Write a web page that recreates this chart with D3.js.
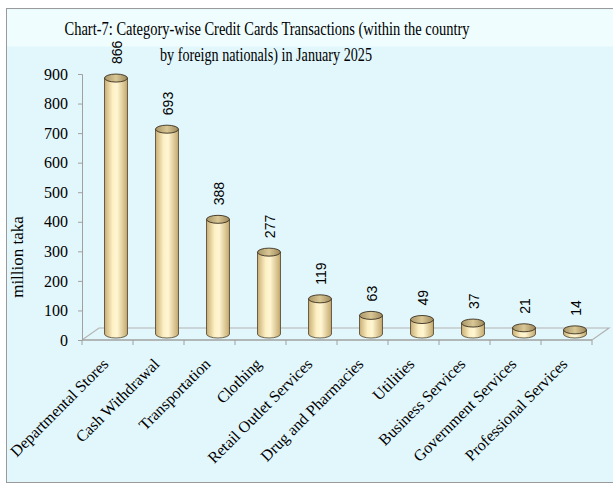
<!DOCTYPE html>
<html>
<head>
<meta charset="utf-8">
<script src="https://cdn.jsdelivr.net/npm/d3@7"></script>
<style>
  body { margin: 0; background: #ffffff; }
  svg { display: block; }
</style>
</head>
<body>
<div id="chart"></div>
<script>
// Data
var categories = ["Departmental Stores", "Cash Withdrawal", "Transportation", "Clothing",
  "Retail Outlet Services", "Drug and Pharmacies", "Utilities", "Business Services",
  "Government Services", "Professional Services"];
var values = [866, 693, 388, 277, 119, 63, 49, 37, 21, 14];
var yTicks = [0, 100, 200, 300, 400, 500, 600, 700, 800, 900];

var W = 613, H = 488;
var serif = "'Liberation Serif', 'Times New Roman', serif";

var svg = d3.select("#chart").append("svg")
    .attr("width", W)
    .attr("height", H);

// gradient for the cylinders
var defs = svg.append("defs");
var grad = defs.append("linearGradient").attr("id", "cyl")
    .attr("x1", "0%").attr("x2", "100%").attr("y1", "0%").attr("y2", "0%");
grad.append("stop").attr("offset", "0%").attr("stop-color", "#c9ae74");
grad.append("stop").attr("offset", "35%").attr("stop-color", "#fdf0c4");
grad.append("stop").attr("offset", "55%").attr("stop-color", "#fff6d2");
grad.append("stop").attr("offset", "100%").attr("stop-color", "#c4a86c");
var capGrad = defs.append("linearGradient").attr("id", "cap")
    .attr("x1", "0%").attr("x2", "100%").attr("y1", "0%").attr("y2", "0%");
capGrad.append("stop").attr("offset", "0%").attr("stop-color", "#a99567");
capGrad.append("stop").attr("offset", "50%").attr("stop-color", "#d9c795");
capGrad.append("stop").attr("offset", "100%").attr("stop-color", "#9c875a");

// frame and background
svg.append("rect").attr("x", 6.5).attr("y", 8.5).attr("width", W).attr("height", 474)
    .attr("fill", "#e2f7fc").attr("stroke", "#9a9a9a");
svg.append("rect").attr("x", 7).attr("y", 9.5).attr("width", W).attr("height", 37)
    .attr("fill", "#effdff");

// scales
var x = d3.scaleBand()
    .domain(categories)
    .range([82, 592])
    .paddingInner(0.55)
    .paddingOuter(0.275);
var y = d3.scaleLinear()
    .domain([0, 900])
    .range([340, 74]);

var depthX = 17, depthY = -12;
var x0 = 82, x1 = 592;

// floor
var floor = svg.append("g").attr("fill", "none");
floor.append("path")
    .attr("d", "M" + x0 + "," + y(0) + "L" + (x0 + depthX) + "," + (y(0) + depthY) +
      "L" + (x1 + depthX) + "," + (y(0) + depthY) + "L" + x1 + "," + y(0))
    .attr("stroke", "#b4b4b4").attr("stroke-width", 1.2);
floor.append("line")
    .attr("x1", x0).attr("x2", x1).attr("y1", y(0)).attr("y2", y(0))
    .attr("stroke", "#a0a0a0").attr("stroke-width", 1.5);

// x ticks
var step = (x1 - x0) / categories.length;
svg.append("g").selectAll("line")
    .data(d3.range(categories.length + 1))
    .enter().append("line")
    .attr("x1", function(i) { return x0 + i * step; })
    .attr("x2", function(i) { return x0 + i * step; })
    .attr("y1", y(0)).attr("y2", y(0) + 5)
    .attr("stroke", "#a0a0a0");

// y axis
var yAxis = svg.append("g")
    .attr("transform", "translate(" + x0 + ",0)")
    .call(d3.axisLeft(y).tickValues(yTicks).tickSize(4).tickPadding(10));
yAxis.select(".domain").attr("stroke", "#a0a0a0");
yAxis.selectAll(".tick line").attr("stroke", "#a0a0a0");
yAxis.selectAll(".tick text")
    .attr("font-family", serif)
    .attr("font-size", 16)
    .attr("fill", "#000");

// cylinders
var rx = x.bandwidth() / 2, ry = 4;
var bars = svg.append("g").selectAll("g")
    .data(values)
    .enter().append("g");

function cx(i) { return x(categories[i]) + rx + depthX / 2; }
function yb() { return y(0) + depthY / 2; }
function yt(d) { return y(d) + depthY / 2; }

bars.append("path")
    .attr("d", function(d, i) {
      var l = cx(i) - rx, r = cx(i) + rx;
      return "M" + l + "," + yt(d) + "L" + l + "," + yb() +
        "A" + rx + "," + ry + " 0 0 0 " + r + "," + yb() +
        "L" + r + "," + yt(d) + "Z";
    })
    .attr("fill", "url(#cyl)")
    .attr("stroke", "#4a3e28")
    .attr("stroke-width", 0.8);
bars.append("ellipse")
    .attr("cx", function(d, i) { return cx(i); })
    .attr("cy", function(d) { return yt(d); })
    .attr("rx", rx).attr("ry", ry)
    .attr("fill", "url(#cap)")
    .attr("stroke", "#3a3020")
    .attr("stroke-width", 0.9);

// value labels
bars.append("text")
    .attr("transform", function(d, i) {
      return "translate(" + (cx(i) + 1) + "," + (yt(d) - 14) + ") rotate(-90)";
    })
    .attr("dy", "0.35em")
    .attr("font-family", "'Liberation Sans', Arial, sans-serif")
    .attr("font-size", 14)
    .attr("fill", "#000")
    .text(function(d) { return d; });

// category labels
svg.append("g").selectAll("text")
    .data(categories)
    .enter().append("text")
    .attr("transform", function(d) {
      return "translate(" + (x(d) + rx + 2) + "," + (y(0) + 25) + ") rotate(-45)";
    })
    .attr("text-anchor", "end")
    .attr("font-family", serif)
    .attr("font-size", 16)
    .attr("fill", "#000")
    .text(function(d) { return d; });

// y label
svg.append("text")
    .attr("transform", "translate(23,257) rotate(-90)")
    .attr("text-anchor", "middle")
    .attr("font-family", serif)
    .attr("font-size", 17)
    .attr("fill", "#000")
    .text("million taka");

// title
var title = svg.append("text")
    .attr("text-anchor", "middle")
    .attr("font-family", serif)
    .attr("font-size", 18)
    .attr("fill", "#000");
title.append("tspan").attr("x", 267).attr("y", 35)
    .attr("textLength", 405).attr("lengthAdjust", "spacingAndGlyphs")
    .text("Chart-7: Category-wise Credit Cards Transactions (within the country");
title.append("tspan").attr("x", 266).attr("y", 61)
    .attr("textLength", 212).attr("lengthAdjust", "spacingAndGlyphs")
    .text("by foreign nationals) in January 2025");
</script>
</body>
</html>
